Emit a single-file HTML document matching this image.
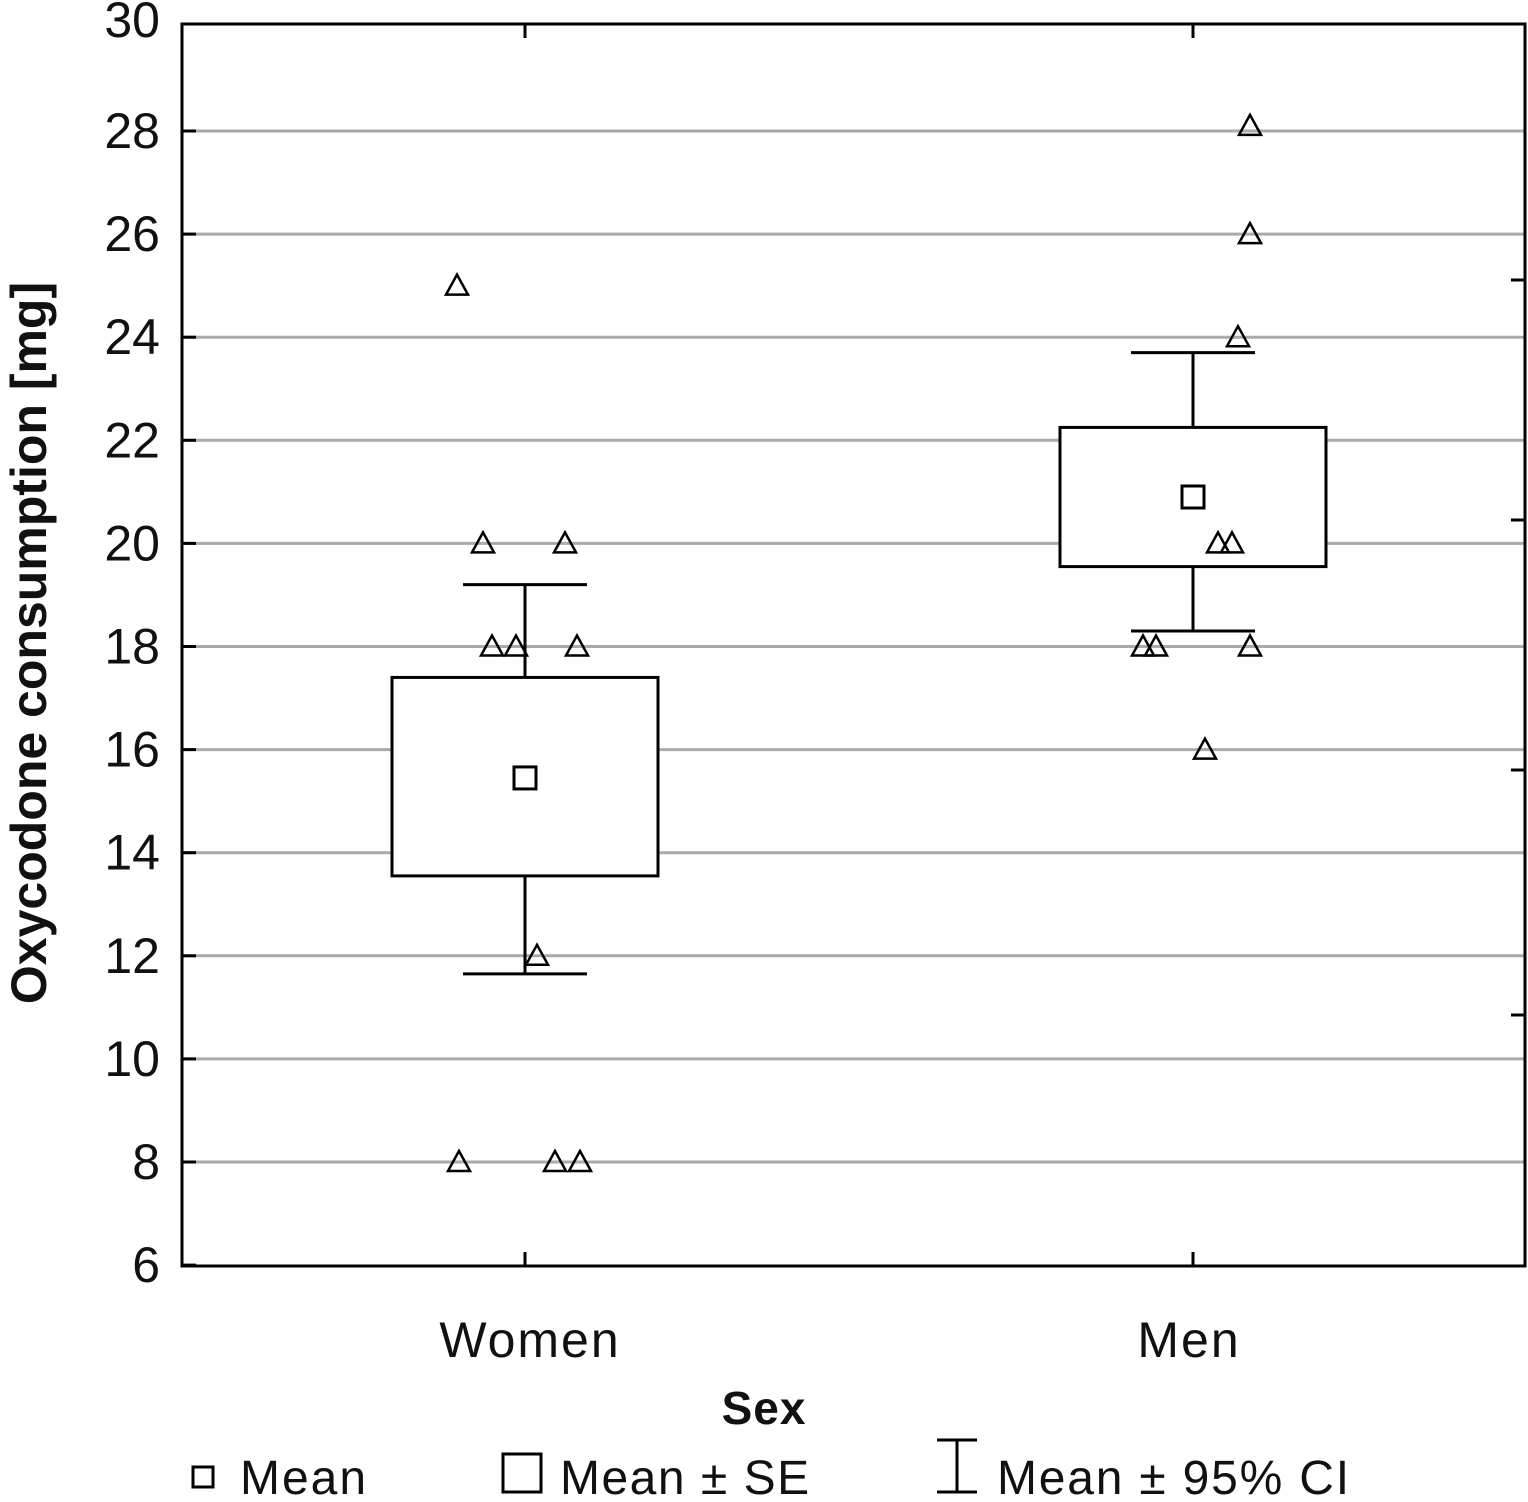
<!DOCTYPE html>
<html><head><meta charset="utf-8"><style>
html,body{margin:0;padding:0;background:#fff;}
svg text{font-family:"Liberation Sans",sans-serif;fill:#111;}
</style></head><body>
<svg width="1528" height="1497" viewBox="0 0 1528 1497" xmlns="http://www.w3.org/2000/svg">
<g id="grid"></g>
<g id="marks"></g>
<rect x="182" y="24" width="1343" height="1242" fill="none" stroke="#000" stroke-width="3"/>
<g id="axes"></g>
<text x="0" y="0" transform="translate(46,643) rotate(-90)" text-anchor="middle" font-size="50" font-weight="bold">Oxycodone consumption [mg]</text>
<text x="764" y="1424" text-anchor="middle" font-size="46" font-weight="bold" letter-spacing="1">Sex</text>
<g>
<g><rect x="193" y="1467" width="20" height="20" fill="none" stroke="#000" stroke-width="3"/><text x="240" y="1494" font-size="48" letter-spacing="2">Mean</text></g>
<g><rect x="503" y="1454" width="38" height="38" fill="none" stroke="#000" stroke-width="3"/><text x="560" y="1494" font-size="48" letter-spacing="1.5">Mean ± SE</text></g>
<g><path d="M937 1440H977M957 1440V1492M937 1492H977" fill="none" stroke="#000" stroke-width="3"/><text x="997" y="1494" font-size="48" letter-spacing="1.8">Mean ± 95% CI</text></g>
</g>
</svg>
<script>
const categories=["Women","Men"];
const means=[15.45,20.9];
const seLow=[13.55,19.55];
const seHigh=[17.4,22.25];
const ciLow=[11.65,18.3];
const ciHigh=[19.2,23.7];
const womenPoints=[25,20,20,18,18,18,12,8,8,8];
const womenJitter=[-68,-42,40,-33,-9,52,12,-66,30,55];
const menPoints=[28.1,26,24,20,20,18,18,18,16];
const menJitter=[57,57,45,25,39,-50,-37,57,12];
const yTicks=[6,8,10,12,14,16,18,20,22,24,26,28,30];
const NS="http://www.w3.org/2000/svg";
const yS=v=>1162-(v-8)*51.55;
const xS=i=>[525,1193][i];
function mk(tag,attrs,parent){const e=document.createElementNS(NS,tag);for(const k in attrs)e.setAttribute(k,attrs[k]);parent.appendChild(e);return e;}
const grid=document.getElementById('grid'),marks=document.getElementById('marks'),axes=document.getElementById('axes');
yTicks.forEach(t=>{
  const y=t===30?24:yS(t);
  if(t>6&&t<30){const g=mk('line',{x1:182,x2:1525,y1:y,y2:y,stroke:'#aaa','stroke-width':3},grid);
  
  }
  mk('line',{x1:182,x2:196,y1:y,y2:y,stroke:'#000','stroke-width':3},axes);
  const tx=mk('text',{x:160,y:t===30?37:y+17,'text-anchor':'end','font-size':50},axes);
  tx.textContent=t;
  
  
});
[280,520,770,1015].forEach(y=>mk('line',{x1:1511,x2:1525,y1:y,y2:y,stroke:'#000','stroke-width':3},axes));
categories.forEach((c,i)=>{
  const x=xS(i);
  mk('line',{x1:x,x2:x,y1:24,y2:38,stroke:'#000','stroke-width':3},axes);
  mk('line',{x1:x,x2:x,y1:1252,y2:1266,stroke:'#000','stroke-width':3},axes);
  const tx=mk('text',{x:i===0?530:1189,y:1357,'text-anchor':'middle','font-size':50,'letter-spacing':2},axes);
  tx.textContent=c;
  
  
  const g=mk('g',{},marks);
  
  
  mk('path',{d:`M${x} ${yS(ciHigh[i])}V${yS(ciLow[i])}M${x-62} ${yS(ciHigh[i])}H${x+62}M${x-62} ${yS(ciLow[i])}H${x+62}`,fill:'none',stroke:'#000','stroke-width':3},g);
  mk('rect',{x:x-133,y:yS(seHigh[i]),width:266,height:yS(seLow[i])-yS(seHigh[i]),fill:'#fff',stroke:'#000','stroke-width':3},g);
  mk('rect',{x:x-11,y:yS(means[i])-11,width:22,height:22,fill:'none',stroke:'#000','stroke-width':3},g);
});
function tri(x,v,name){const y=yS(v);const p=mk('path',{d:`M${x} ${y-11}L${x+11} ${y+9}L${x-11} ${y+9}Z`,fill:'none',stroke:'#000','stroke-width':2.5},marks);
  
  }
womenPoints.forEach((v,j)=>tri(xS(0)+womenJitter[j],v,'point-women'));
menPoints.forEach((v,j)=>tri(xS(1)+menJitter[j],v,'point-men'));
</script>
</body></html>
